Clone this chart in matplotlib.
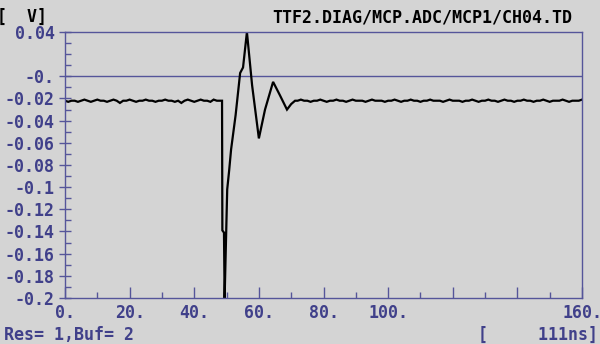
import numpy as np
import matplotlib.pyplot as plt
from matplotlib.ticker import MultipleLocator

# baseline before the pulse, 1 ns steps from 0 to 48 ns
v_pre = [-0.022, -0.023, -0.022, -0.022, -0.023, -0.022, -0.021, -0.022, -0.023, -0.022,
         -0.021, -0.022, -0.022, -0.023, -0.022, -0.021, -0.022, -0.024, -0.022, -0.022,
         -0.021, -0.022, -0.023, -0.022, -0.022, -0.021, -0.022, -0.022, -0.023, -0.022,
         -0.022, -0.021, -0.022, -0.022, -0.023, -0.022, -0.024, -0.022, -0.021, -0.022,
         -0.023, -0.022, -0.021, -0.022, -0.022, -0.023, -0.021, -0.022, -0.022]

# MCP pulse
t_pulse = [48.6, 48.7, 49.2, 49.4, 49.8, 50.2, 50.8, 51.4, 52.8, 54.2, 55.1, 56.3,
           57.9, 60.0, 61.9, 64.4, 66.5, 68.7, 70.0, 71.2]
v_pulse = [-0.022, -0.139, -0.141, -0.200, -0.150, -0.102, -0.085, -0.066, -0.035, 0.003,
           0.008, 0.040, -0.008, -0.056, -0.030, -0.005, -0.017, -0.030, -0.025, -0.022]

# baseline after the pulse, 1 ns steps from 72 to 160 ns
v_post = [-0.022, -0.021, -0.022, -0.022, -0.023, -0.022, -0.022, -0.021, -0.022, -0.023,
          -0.022, -0.022, -0.021, -0.022, -0.022, -0.023, -0.022, -0.021, -0.022, -0.022,
          -0.022, -0.023, -0.022, -0.021, -0.022, -0.022, -0.022, -0.023, -0.022, -0.022,
          -0.021, -0.022, -0.023, -0.022, -0.022, -0.021, -0.022, -0.022, -0.023, -0.022,
          -0.022, -0.021, -0.022, -0.022, -0.022, -0.023, -0.022, -0.021, -0.022, -0.022,
          -0.022, -0.023, -0.022, -0.022, -0.021, -0.022, -0.023, -0.022, -0.022, -0.021,
          -0.022, -0.022, -0.023, -0.022, -0.021, -0.022, -0.022, -0.023, -0.022, -0.022,
          -0.021, -0.022, -0.022, -0.023, -0.022, -0.022, -0.021, -0.022, -0.023, -0.022,
          -0.022, -0.022, -0.021, -0.022, -0.023, -0.022, -0.022, -0.022, -0.021]

t = np.concatenate([np.arange(0, 49), t_pulse, np.arange(72, 161)])
v = np.concatenate([v_pre, v_pulse, v_post])

xticks = [0, 20, 40, 60, 80, 100, 120, 140, 160]
xlabels = ['0.', '20.', '40.', '60.', '80.', '100.', '', '', '160.']
yticks = [0.04, 0.0, -0.02, -0.04, -0.06, -0.08, -0.1, -0.12, -0.14, -0.16, -0.18, -0.2]
ylabels = ['0.04', '-0.', '-0.02', '-0.04', '-0.06', '-0.08', '-0.1', '-0.12', '-0.14',
           '-0.16', '-0.18', '-0.2']

bg = '#d4d4d4'
blue = '#55559a'
txt = '#40408a'
mono = {'family': 'DejaVu Sans Mono', 'weight': 'bold', 'size': 12}

fig = plt.figure(figsize=(6, 3.44), dpi=100, facecolor=bg)
ax = fig.add_axes([65/600, 1 - 298/344, (582 - 65)/600, (298 - 32)/344])
ax.set_facecolor(bg)

ax.axhline(0, color=blue, lw=1)
ax.plot(t, v, color='black', lw=1.6, solid_joinstyle='miter')

ax.set_xlim(0, 160)
ax.set_ylim(-0.2, 0.04)
for s in ax.spines.values():
    s.set_color(blue)
    s.set_linewidth(1.0)

ax.set_xticks(xticks, xlabels)
ax.xaxis.set_minor_locator(MultipleLocator(10))
ax.set_yticks(yticks, ylabels)
ax.yaxis.set_minor_locator(MultipleLocator(0.01))

ax.tick_params(axis='x', which='major', direction='in', length=8, width=1.0, color=blue,
               labelcolor=txt, pad=4)
ax.tick_params(axis='x', which='minor', direction='in', length=4.5, width=1.0, color=blue)
ax.tick_params(axis='y', which='major', direction='inout', length=9, width=1.0, color=blue,
               labelcolor=txt, pad=3)
ax.tick_params(axis='y', which='minor', direction='in', length=4.5, width=1.0, color=blue)
for lab in ax.get_xticklabels() + ax.get_yticklabels():
    lab.set_fontfamily('DejaVu Sans Mono')
    lab.set_fontweight('bold')
    lab.set_fontsize(12)

fig.text(-3/600, 1 - 8/344, '[  V]', color='black', ha='left', va='top', **mono)
fig.text(572/600, 1 - 8/344, 'TTF2.DIAG/MCP.ADC/MCP1/CH04.TD', color='black',
         ha='right', va='top', **mono)
fig.text(4/600, 1 - 326/344, 'Res= 1,Buf= 2', color=txt, ha='left', va='top', **mono)
fig.text(598/600, 1 - 326/344, '[     111ns]', color=txt, ha='right', va='top', **mono)

fig.savefig('out.png', dpi=100, facecolor=bg)
